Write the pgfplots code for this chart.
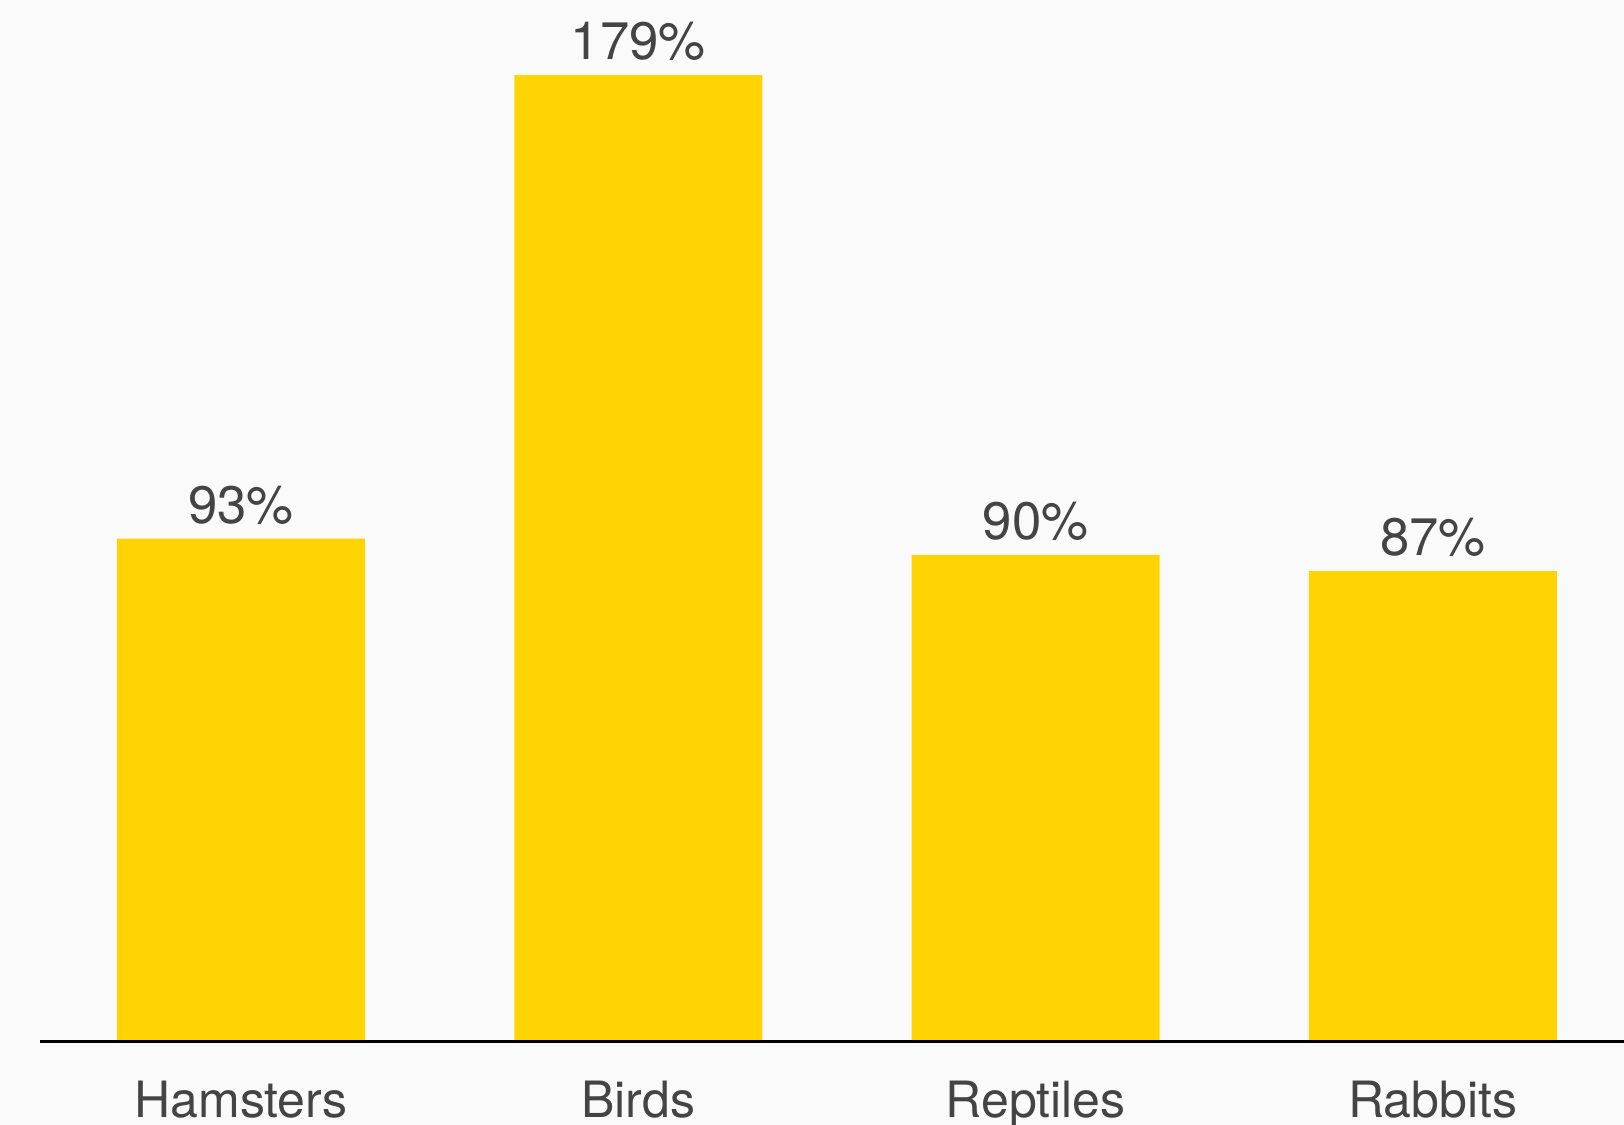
\documentclass[border=0pt]{standalone}
\usepackage{fontspec}
\setmainfont{TeX Gyre Heros}
\usepackage{pgfplots}
\pgfplotsset{compat=1.18}
\definecolor{bgcol}{HTML}{FAFAFA}
\definecolor{baryellow}{HTML}{FFD402}
\definecolor{txtgray}{HTML}{444444}
\begin{document}
\begin{tikzpicture}
\useasboundingbox (0,0) rectangle (16.24cm,11.25cm);
\fill[bgcol] (0,0) rectangle (16.24cm,11.25cm);
\begin{axis}[
  at={(0.40cm,0.835cm)}, anchor=south west,
  scale only axis,
  width=15.84cm, height=10.415cm,
  xmin=-0.506, xmax=3.481,
  ymin=-0.28, ymax=192.95,
  axis x line*=bottom,
  axis y line=none,
  x axis line style={black, line width=0.77pt, -},
  xtick={0,1,2,3},
  xticklabels={Hamsters,Birds,Reptiles,Rabbits},
  major tick length=0pt,
  xtick style={draw=none},
  xticklabel style={anchor=base, yshift=-0.757cm, font=\fontsize{14.23pt}{17pt}\selectfont, text=txtgray, inner sep=0pt},
  ybar, bar width=2.48cm,
  nodes near coords={\pgfmathprintnumber[assume math mode=true]{\pgfplotspointmeta}\%},
  nodes near coords style={anchor=base, yshift=0.157cm, font=\fontsize{15pt}{18pt}\selectfont, text=txtgray, inner sep=0pt},
  clip=false,
]
\addplot[fill=baryellow, draw=none] coordinates {(0,93) (1,179) (2,90) (3,87)};
\end{axis}
\end{tikzpicture}
\end{document}
